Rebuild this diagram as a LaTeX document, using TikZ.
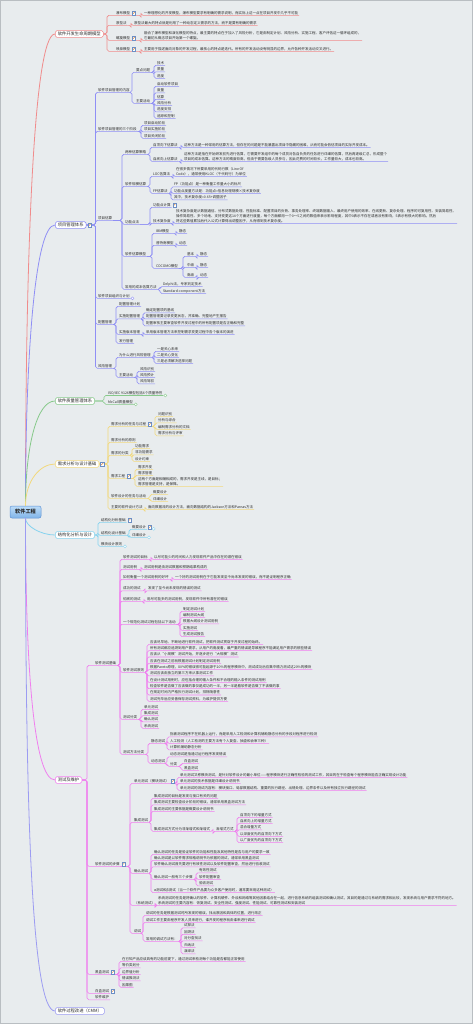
\documentclass[tikz,border=0pt]{standalone}
\usepackage{fontspec}
\newfontfamily\cjk{Noto Sans CJK SC}
\usetikzlibrary{positioning}
\definecolor{bgc}{HTML}{E8ECEE}
\definecolor{frm}{HTML}{B9BEC2}
\definecolor{txt}{HTML}{2B2B2B}
\definecolor{cR}{HTML}{F08C8C}
\definecolor{cB}{HTML}{8F8FF5}
\definecolor{cG}{HTML}{86C98A}
\definecolor{cY}{HTML}{F2D97E}
\definecolor{cC}{HTML}{86D3EE}
\definecolor{cM}{HTML}{F07EEE}
\definecolor{cV}{HTML}{9C9CF2}
\definecolor{rootT}{HTML}{BCDCF8}
\definecolor{rootB}{HTML}{80B4E8}
\definecolor{rootE}{HTML}{5E92D4}
\definecolor{icoB}{HTML}{6C8EC4}
\definecolor{icoO}{HTML}{E08A3C}
\tikzset{
  leaf/.style={anchor=west, inner xsep=0.8pt, inner ysep=0.5pt, align=left, text=txt,
    font=\cjk\fontsize{3.5}{4.7}\selectfont},
  box/.style={anchor=west, draw, fill=white, rounded corners=1.5pt, line width=0.55pt,
    inner xsep=2.5pt, inner ysep=1.3pt, text=txt, font=\cjk\fontsize{4.3}{5}\selectfont},
  rootbox/.style={draw=rootE, top color=rootT, bottom color=rootB, rounded corners=2pt,
    line width=0.5pt, minimum width=31pt, minimum height=12pt, text=txt,
    font=\cjk\bfseries\fontsize{5.2}{6}\selectfont},
  hub/.style={line width=0.55pt, rounded corners=1.8pt},
  trunk/.style={line width=0.8pt},
  ico/.style={draw=icoB, fill=white, line width=0.3pt, minimum size=3.4pt, inner sep=0pt,
    path picture={\draw[icoO, line width=0.5pt]
      ([shift={(0.6pt,0.6pt)}]path picture bounding box.south west) --
      ([shift={(-0.5pt,-0.5pt)}]path picture bounding box.north east);}},
  fold/.style={circle, draw, fill=white, line width=0.35pt, minimum size=3pt, inner sep=0pt},
}
\begin{document}
\begin{tikzpicture}[x=1pt,y=-1pt]
\useasboundingbox (0,0) rectangle (473,1024);
\fill[bgc] (0,0) rectangle (473,1024);
\draw[frm, line width=1pt] (0.5,0.5) rectangle (472.5,1023.5);

\node[rootbox] (root) at (25.5,512) {软件工程};

\node[box, draw=cR] (b1) at (55,34) {软件开发生命周期模型};
\node[box, draw=cB] (b2) at (55,225) {项目管理体系};
\node[box, draw=cG] (b3) at (55,401) {软件质量管理体系};
\node[box, draw=cY] (b4) at (55,464) {需求分析与设计基础};
\node[box, draw=cC] (b5) at (55,535) {结构化分析与设计};
\node[box, draw=cM] (b6) at (55,780) {测试及维护};
\node[box, draw=cV] (b7) at (55,1011) {软件过程改进（CMM）};

\draw[trunk, cR] (root.north) .. controls +(0,-240) and +(-22,0) .. (b1.west);
\draw[trunk, cB] (root.north) .. controls +(0,-150) and +(-20,0) .. (b2.west);
\draw[trunk, cG] (root.north) .. controls +(0,-60) and +(-18,0) .. (b3.west);
\draw[trunk, cY] (root.north) .. controls +(0,-25) and +(-15,0) .. (b4.west);
\draw[trunk, cC] (root.south) .. controls +(0,8) and +(-14,0) .. (b5.west);
\draw[trunk, cM] (root.south) .. controls +(0,140) and +(-22,0) .. (b6.west);
\draw[trunk, cV] (root.south) .. controls +(0,280) and +(-24,0) .. (b7.west);

\node[leaf] (r1) at (115,13) {瀑布模型};
\node[leaf] (r1d) at (143,13) {一种理想化的开发模型，瀑布模型要求有明确的需求说明，而实际上这一点在项目开发中几乎不可能};
\node[leaf] (r2) at (115,23) {原型法};
\node[leaf] (r2d) at (133,23) {原型法最大的特点就是利用了一种动态定义需求的方法，而不是要有明确的需求};
\node[leaf] (r3) at (115,38) {螺旋模型};
\node[leaf, anchor=south west] (r3d) at (143,40.4) {融合了瀑布模型和演化模型的特点，最主要的特点在于加入了风险分析，它是由制定计划、风险分析、实施工程、客户评估这一循环组成的，\\它最初从概念项目开始第一个螺旋。};
\node[leaf] (r4) at (115,49) {喷泉模型};
\node[leaf] (r4d) at (143,49) {主要用于描述面向对象的开发过程，最核心的特点是迭代。所有的开发活动没有明显的边界，允许各种开发活动交叉进行。};

\foreach \c in {r1,r2,r3,r4}
  \draw[hub, cR] (b1.east) -| ([xshift=-8pt]\c.south west) -- (\c.south east);
\foreach \p/\c/\s in {r1/r1d/2pt, r2/r2d/2pt, r3/r3d/2pt, r4/r4d/2pt}
  \draw[hub, cR] (\p.south east) -| ([xshift=-\s]\c.south west) -- (\c.south east);

\node[leaf] (p1) at (97,90) {软件项目管理的内容};
\node[leaf] (p1a) at (135,70) {要点问题};
\node[leaf] (k1) at (156,63) {技术};
\node[leaf] (k2) at (156,69.5) {质量};
\node[leaf] (k3) at (156,76) {进度};
\node[leaf] (p1b) at (135,101) {主要活动};
\node[leaf] (m1) at (156,84) {启动软件项目};
\node[leaf] (m2) at (156,90.5) {度量};
\node[leaf] (m3) at (156,97) {估算};
\node[leaf] (m4) at (156,103) {风险分析};
\node[leaf] (m5) at (156,109.5) {进度安排};
\node[leaf] (m6) at (156,116) {追踪和控制};
\node[leaf] (p2) at (97,129) {软件项目管理的三个阶段};
\node[leaf] (n1) at (143,123) {项目启动阶段};
\node[leaf] (n2) at (143,129.5) {项目实施阶段};
\node[leaf] (n3) at (143,136) {项目关闭阶段};
\node[leaf] (p3) at (97,218) {项目估算};
\node[leaf] (q1) at (124,152) {两种估算策略};
\node[leaf] (q1a) at (152,145) {自顶向下估算法};
\node[leaf] (q1ad) at (183,145) {这种方法是一种常用的估算方法，但存在的问题是不能暴露出项目中隐藏的困难，从而可能会低估项目的实际开发成本。};
\node[leaf] (q1b) at (152,159) {自底向上估算法};
\node[leaf, anchor=south west] (q1bd) at (183,161.4) {这种方法是指在开始研发前先进行估算，它需要开发组中的每个成员对各自负责的任务进行详细的估算，然后再逐级汇总，形成整个\\项目的成本估算。这种方法的精度较高，但由于需要各级人员参与，因此花费的时间较长，工作量较大，成本也较高。};
\node[leaf] (q2) at (124,184) {软件规模估算};
\node[leaf] (q2a) at (152,174) {LOC估算法};
\node[leaf, anchor=south west] (q2ad) at (175,176.4) {在很多情况下所要采用的代码行数（Line Of\\Code），通常使用KLOC（千代码行）为单位};
\node[leaf] (q2b) at (152,191) {FP估算法};
\node[leaf] (f1) at (173,184.5) {FP（功能点）是一种衡量工作量大小的标尺};
\node[leaf] (f2) at (173,191) {功能点度量方法是：功能点=信息处理规模×技术复杂度};
\node[leaf] (f3) at (173,197.5) {其中，技术复杂度=0.65+调整因子};
\node[leaf] (q3) at (124,222) {功能点法};
\node[leaf] (q3a) at (152,205) {功能点计算};
\node[leaf] (q3b) at (152,221) {技术复杂度};
\node[leaf, anchor=south west] (q3bd) at (175,223.4) {技术复杂度是从数据通信、分布式数据处理、性能标准、配置项目的负荷、事务处理率、终端数据输入、最终用户使用的效率、在线更新、复杂处理、程序的可复用性、安装简易性、\\操作简易性、多个场地、支持变更这14个方面进行度量，每个方面都用一个0～5之间的数值来表示影响程度，其中0表示不存在或者没有影响，5表示有很大的影响。然后\\将这些数值累加后代入公式计算得出调整因子，从而得到技术复杂度。};
\node[leaf] (q4) at (124,254) {软件估算模型};
\node[leaf] (w1) at (155,231) {IBM模型};
\node[leaf] (w1d) at (178,231) {静态};
\node[leaf] (w2) at (155,243) {普特南模型};
\node[leaf] (w2d) at (178,243) {动态};
\node[leaf] (w3) at (155,266) {COCOMO模型};
\node[leaf] (v1) at (186,254) {基本};
\node[leaf] (v1d) at (199,254) {静态};
\node[leaf] (v2) at (186,265) {中级};
\node[leaf] (v2d) at (199,265) {静态};
\node[leaf] (v3) at (186,275) {高级};
\node[leaf] (v3d) at (199,275) {动态};
\node[leaf] (q5) at (124,287) {常用的成本估算方法};
\node[leaf] (z1) at (162,284) {Delphi法，专家判定技术};
\node[leaf] (z2) at (162,291) {Standard-component方法};
\node[leaf] (p4) at (97,296) {软件项目组织与计划};
\node[leaf] (p5) at (97,322) {配置管理};
\node[leaf] (s1) at (118,304) {配置管理计划};
\node[leaf] (s2) at (118,316.5) {实施配置管理};
\node[leaf] (s2a) at (145,310.5) {确定配置项的基线};
\node[leaf] (s2b) at (145,316.5) {配置管理要记录变更状态，并准确、完整地产生报告};
\node[leaf] (s2c) at (145,323.5) {配置审核主要审查软件开发过程中的所有配置项是否正确和完整};
\node[leaf] (s3) at (118,332) {实施版本管理};
\node[leaf] (s3a) at (145,332) {采用版本管理方法来控制需求变更过程中各个版本的演进};
\node[leaf] (s4) at (118,341) {发行管理};
\node[leaf] (p6) at (97,366) {风险管理};
\node[leaf] (u1) at (118,355) {为什么进行风险管理};
\node[leaf] (u1a) at (156,349) {一是关心未来};
\node[leaf] (u1b) at (156,355) {二是关心变化};
\node[leaf] (u1c) at (156,361) {三是必须解决选择问题};
\node[leaf] (u2) at (118,375) {主要活动};
\node[leaf] (u2a) at (139,369) {风险识别};
\node[leaf] (u2b) at (139,375) {风险预计};
\node[leaf] (u2c) at (139,381.5) {风险驾驭};

\foreach \c in {p1,p2,p3,p4,p5,p6}
  \draw[hub, cB] (b2.east) -| ([xshift=-1.5pt]\c.south west) -- (\c.south east);
\foreach \p/\c/\s in {p1/p1a/3pt, p1/p1b/3pt, p1a/k1/2pt, p1a/k2/2pt, p1a/k3/2pt,
    p1b/m1/2pt, p1b/m2/2pt, p1b/m3/2pt, p1b/m4/2pt, p1b/m5/2pt, p1b/m6/2pt,
    p2/n1/2pt, p2/n2/2pt, p2/n3/2pt,
    p3/q1/2pt, p3/q2/2pt, p3/q3/2pt, p3/q4/2pt, p3/q5/2pt,
    q1/q1a/2pt, q1/q1b/2pt, q1a/q1ad/2pt, q1b/q1bd/2pt,
    q2/q2a/2pt, q2/q2b/2pt, q2a/q2ad/2pt, q2b/f1/2pt, q2b/f2/2pt, q2b/f3/2pt,
    q3/q3a/2pt, q3/q3b/2pt, q3b/q3bd/2pt,
    q4/w1/3pt, q4/w2/3pt, q4/w3/3pt, w1/w1d/2pt, w2/w2d/2pt,
    w3/v1/3pt, w3/v2/3pt, w3/v3/3pt, v1/v1d/2pt, v2/v2d/2pt, v3/v3d/2pt,
    q5/z1/2pt, q5/z2/2pt,
    p5/s1/2pt, p5/s2/2pt, p5/s3/2pt, p5/s4/2pt,
    s2/s2a/2pt, s2/s2b/2pt, s2/s2c/2pt, s3/s3a/2pt,
    p6/u1/2pt, p6/u2/2pt, u1/u1a/2pt, u1/u1b/2pt, u1/u1c/2pt,
    u2/u2a/2pt, u2/u2b/2pt, u2/u2c/2pt}
  \draw[hub, cB] (\p.south east) -| ([xshift=-\s]\c.south west) -- (\c.south east);

\node[leaf] (iso) at (107,393) {ISO/IEC 9126模型包括6个质量特性};
\node[leaf] (mcc) at (107,402) {McCall质量模型};
\foreach \c in {iso,mcc}
  \draw[hub, cG] (b3.east) -| ([xshift=-3pt]\c.south west) -- (\c.south east);

\node[leaf] (y1) at (110,424) {需求分析的任务与过程};
\node[leaf] (a1) at (157,414) {问题识别};
\node[leaf] (a2) at (157,420.5) {分析与综合};
\node[leaf] (a3) at (157,427) {编制需求分析的文档};
\node[leaf] (a4) at (157,433.5) {需求分析与评审};
\node[leaf] (y2) at (110,440) {需求分析的原则};
\node[leaf] (y3) at (110,453) {需求的分类};
\node[leaf] (d1) at (134,446) {功能需求};
\node[leaf] (d2) at (134,452.5) {非功能需求};
\node[leaf] (d3) at (134,459) {设计约束};
\node[leaf] (y4) at (110,476) {需求工程};
\node[leaf] (h1) at (137,467) {需求开发};
\node[leaf] (h2) at (137,473) {需求管理};
\node[leaf, anchor=south west] (h3) at (137,486.4) {这两个方面是相辅相成的，需求开发是主线，是目标；\\需求管理是支持，是保障。};
\node[leaf] (y5) at (110,496) {软件设计的任务与活动};
\node[leaf] (j1) at (152,492) {概要设计};
\node[leaf] (j2) at (152,499) {详细设计};
\node[leaf] (y6) at (110,507) {主要的软件设计方法};
\node[leaf] (y6d) at (147,507) {面向数据流的设计方法，面向数据结构的Jackson方法和Parnas方法};

\foreach \c in {y1,y2,y3,y4,y5,y6}
  \draw[hub, cY] (b4.east) -| ([xshift=-2pt]\c.south west) -- (\c.south east);
\foreach \p/\c/\s in {y1/a1/2pt, y1/a2/2pt, y1/a3/2pt, y1/a4/2pt,
    y3/d1/2pt, y3/d2/2pt, y3/d3/2pt, y4/h1/2pt, y4/h2/2pt, y4/h3/2pt,
    y5/j1/2pt, y5/j2/2pt, y6/y6d/2pt}
  \draw[hub, cY] (\p.south east) -| ([xshift=-\s]\c.south west) -- (\c.south east);

\node[leaf] (c1) at (100,520) {结构化分析基础};
\node[leaf] (c2) at (100,533) {结构化设计基础};
\node[leaf] (c2a) at (131,527) {概要设计};
\node[leaf] (c2b) at (131,535) {详细设计};
\node[leaf] (c3) at (100,544) {模块设计原则};
\foreach \c in {c1,c2,c3}
  \draw[hub, cC] (b5.east) -| ([xshift=-2pt]\c.south west) -- (\c.south east);
\foreach \c in {c2a,c2b}
  \draw[hub, cC] (c2.south east) -| ([xshift=-2pt]\c.south west) -- (\c.south east);

\node[leaf] (t1) at (94,663) {软件测试基础};
\node[leaf] (e1) at (122,557) {软件测试的目标};
\node[leaf] (e1d) at (153,557) {以尽可能少的时间和人力发现软件产品中存在的潜在错误};
\node[leaf] (e2) at (122,567) {测试用例};
\node[leaf] (e2d) at (143,567) {测试用例是由测试数据和预期结果构成的};
\node[leaf] (e3) at (122,577) {如何衡量一个测试用例的好坏};
\node[leaf] (e3d) at (174,577) {一个好的测试用例在于它能发现至今尚未发现的错误，而不是证明程序正确};
\node[leaf] (e4) at (122,588.5) {成功的测试};
\node[leaf] (e4d) at (147,588.5) {发现了至今尚未发现的错误的测试};
\node[leaf] (e5) at (122,599) {彻底的测试};
\node[leaf] (e5d) at (146,599) {用尽可能多的测试用例，发现软件中所有潜在的错误};
\node[leaf] (e6) at (122,622) {一个规范化测试过程包括以下活动};
\node[leaf] (o1) at (182,609) {制定测试计划};
\node[leaf] (o2) at (182,615.3) {编制测试大纲};
\node[leaf] (o3) at (182,621.6) {根据大纲设计测试用例};
\node[leaf] (o4) at (182,628) {实施测试};
\node[leaf] (o5) at (182,634.3) {生成测试报告};
\node[leaf] (e7) at (122,670) {软件测试原则};
\node[leaf] (l1) at (149,642) {应该尽早地、不断地进行软件测试，把软件测试贯穿于开发过程的始终。};
\node[leaf] (l2) at (149,648.3) {所有测试都应追溯到用户需求，从用户的角度看，最严重的错误是导致程序不能满足用户需求的那些错误};
\node[leaf] (l3) at (149,654.6) {应该从“小规模”测试开始，并逐步进行“大规模”测试};
\node[leaf] (l4) at (149,661) {应该在测试之前就根据测试计划制定测试用例};
\node[leaf] (l5) at (149,667.3) {根据Pareto原理，80\%的错误很可能起源于20\%的程序模块中，测试成功后应集中精力测试这20\%的模块};
\node[leaf] (l6) at (149,673.6) {测试应该由独立的第三方来从事测试工作};
\node[leaf] (l7) at (149,680) {在设计测试用例时，应包括合理的输入条件和不合理的输入条件的测试用例};
\node[leaf] (l8) at (149,686.3) {检查软件是否做了应该做的事仅是成功的一半，另一半是看软件是否做了不该做的事};
\node[leaf] (l9) at (149,692.6) {在规定时间内严格执行测试计划，排除随意性};
\node[leaf] (l10) at (149,699) {测试完毕后应妥善保存测试资料，为维护提供方便};
\node[leaf] (e8) at (122,717) {测试分类};
\node[leaf] (x1) at (143,707) {单元测试};
\node[leaf] (x2) at (143,713.3) {集成测试};
\node[leaf] (x3) at (143,719.6) {确认测试};
\node[leaf] (x4) at (143,726) {系统测试};
\node[leaf] (e9) at (122,752) {测试方法分类};
\node[leaf] (st) at (150,741) {静态测试};
\node[leaf] (st1) at (169,734.5) {指被测试程序不在机器上运行，而是采用人工检测和计算机辅助静态分析的手段对程序进行检测};
\node[leaf] (st2) at (169,741) {人工检测（人工检测的主要方法有个人复查、抽查和会审三种）};
\node[leaf] (st3) at (169,747.5) {计算机辅助静态分析};
\node[leaf] (dt) at (150,761) {动态测试};
\node[leaf] (dt1) at (169,754.5) {动态测试是指通过运行程序发现错误};
\node[leaf] (dt2) at (169,764) {分类};
\node[leaf] (dw) at (183,761) {白盒测试};
\node[leaf] (db) at (183,768) {黑盒测试};

\node[leaf] (t2) at (94,864) {软件测试的步骤};
\node[leaf] (g1) at (133,781) {单元测试（模块测试）};
\node[leaf] (ga1) at (179,775) {单元测试又称模块测试，是针对软件设计的最小单位——程序模块进行正确性检验的测试工作，其目的在于检查每个程序模块能否正确实现设计功能};
\node[leaf] (ga2) at (179,781) {单元测试的技术依据是详细设计说明书};
\node[leaf] (ga3) at (179,788) {单元测试的测试内容有：模块接口、局部数据结构、重要的执行路径、出错处理、边界条件以及所有独立执行路径的测试};
\node[leaf] (g2) at (133,820) {集成测试};
\node[leaf] (gb1) at (153,796) {集成测试的目标是发现与接口有关的问题};
\node[leaf] (gb2) at (153,802.5) {集成测试主要检查设计阶段的错误，通常采用黑盒测试方法};
\node[leaf] (gb3) at (153,809) {集成测试的主要依据是概要设计说明书};
\node[leaf] (gb4) at (153,829) {集成测试方式分为非渐增式和渐增式};
\node[leaf] (gm) at (215,829) {渐增式方式};
\node[leaf] (gn1) at (239,815) {自顶向下的增量方式};
\node[leaf] (gn2) at (239,821.3) {自底向上的增量方式};
\node[leaf] (gn3) at (239,827.6) {混合增量方式};
\node[leaf] (gn4) at (239,834) {以深度优先的自顶向下方式};
\node[leaf] (gn5) at (239,840.3) {以广度优先的自顶向下方式};
\node[leaf] (g3) at (133,871) {确认测试};
\node[leaf] (gc1) at (153,852) {确认测试的任务是验证软件的功能和性能及其他特性是否与用户的要求一致};
\node[leaf] (gc2) at (153,858) {确认测试是以软件需求规格说明书为依据的测试，通常采用黑盒测试};
\node[leaf] (gc3) at (153,864.5) {软件确认测试首先要进行有效性测试以及软件配置审查，然后进行验收测试};
\node[leaf] (gc4) at (153,877) {确认测试一般有三个步骤};
\node[leaf] (gk1) at (198,870.5) {有效性测试};
\node[leaf] (gk2) at (198,877) {软件配置审查};
\node[leaf] (gk3) at (198,883.5) {验收测试};
\node[leaf] (gc5) at (153,890) {α测试和β测试（当一个软件产品要为众多客户使用时，通常要采用这种测试）};
\node[leaf] (g4) at (133,903) {（系统测试）};
\node[leaf, anchor=south west] (g4d) at (157,905.4) {系统测试的任务是将确认的软件、计算机硬件、外设和网络等其他因素结合在一起，进行信息系统的组装测试和确认测试，其目的是通过与系统的需求相比较，发现系统与用户需求不符的地方。\\系统测试的主要内容有：恢复测试、安全性测试、强度测试、性能测试、可靠性测试和安装测试};
\node[leaf] (g5) at (133,931) {调试};
\node[leaf] (ge1) at (145,913) {调试的任务是根据测试时所发现的错误，找出原因和具体的位置，进行改正};
\node[leaf] (ge2) at (145,920) {调试工作主要由程序开发人员来进行，谁开发的程序就由谁来进行调试};
\node[leaf] (ge3) at (145,939) {常用的调试方法有：};
\node[leaf] (gt1) at (183,925.5) {试探法};
\node[leaf] (gt2) at (183,932) {回溯法};
\node[leaf] (gt3) at (183,938.5) {对分查找法};
\node[leaf] (gt4) at (183,945) {归纳法};
\node[leaf] (gt5) at (183,951.5) {演绎法};
\node[leaf] (t3) at (94,972) {黑盒测试};
\node[leaf] (bb1) at (121,959) {在已知产品应该具有的功能前提下，通过测试来检测每个功能是否都能正常使用};
\node[leaf] (bb2) at (121,965.5) {等价类划分};
\node[leaf] (bb3) at (121,972) {边界值分析};
\node[leaf] (bb4) at (121,978.5) {错误推测法};
\node[leaf] (bb5) at (121,985) {因果图};
\node[leaf] (t4) at (94,991) {白盒测试};
\node[leaf] (t5) at (94,997.5) {软件维护};

\foreach \c in {t1,t2,t3,t4,t5}
  \draw[hub, cM] (b6.east) -| ([xshift=-7pt]\c.south west) -- (\c.south east);
\foreach \p/\c/\s in {t1/e1/2pt, t1/e2/2pt, t1/e3/2pt, t1/e4/2pt, t1/e5/2pt,
    t1/e6/2pt, t1/e7/2pt, t1/e8/2pt, t1/e9/2pt,
    e1/e1d/2pt, e2/e2d/2pt, e3/e3d/2pt, e4/e4d/2pt, e5/e5d/2pt,
    e6/o1/2pt, e6/o2/2pt, e6/o3/2pt, e6/o4/2pt, e6/o5/2pt,
    e7/l1/2pt, e7/l2/2pt, e7/l3/2pt, e7/l4/2pt, e7/l5/2pt,
    e7/l6/2pt, e7/l7/2pt, e7/l8/2pt, e7/l9/2pt, e7/l10/2pt,
    e8/x1/2pt, e8/x2/2pt, e8/x3/2pt, e8/x4/2pt,
    e9/st/2pt, e9/dt/2pt, st/st1/2pt, st/st2/2pt, st/st3/2pt,
    dt/dt1/2pt, dt/dt2/2pt, dt2/dw/2pt, dt2/db/2pt,
    t2/g1/3pt, t2/g2/3pt, t2/g3/3pt, t2/g4/3pt, t2/g5/3pt,
    g1/ga1/2pt, g1/ga2/2pt, g1/ga3/2pt,
    g2/gb1/2pt, g2/gb2/2pt, g2/gb3/2pt, g2/gb4/2pt, gb4/gm/2pt,
    gm/gn1/2pt, gm/gn2/2pt, gm/gn3/2pt, gm/gn4/2pt, gm/gn5/2pt,
    g3/gc1/2pt, g3/gc2/2pt, g3/gc3/2pt, g3/gc4/2pt, g3/gc5/2pt,
    gc4/gk1/2pt, gc4/gk2/2pt, gc4/gk3/2pt, g4/g4d/2pt,
    g5/ge1/2pt, g5/ge2/2pt, g5/ge3/2pt,
    ge3/gt1/2pt, ge3/gt2/2pt, ge3/gt3/2pt, ge3/gt4/2pt, ge3/gt5/2pt,
    t3/bb1/2pt, t3/bb2/2pt, t3/bb3/2pt, t3/bb4/2pt, t3/bb5/2pt}
  \draw[hub, cM] (\p.south east) -| ([xshift=-\s]\c.south west) -- (\c.south east);

\node[ico, right=1pt of r1] (r1i) {};
\node[ico, right=1pt of r3] (r3i) {};
\node[ico, right=1pt of r4] (r4i) {};
\node[ico, right=1.2pt of b2] (b2i) {};
\node[ico, right=1pt of q3a] (q3ai) {};
\node[ico, right=1.2pt of b4] (b4i) {};
\node[ico, right=1pt of y1] (y1i) {};
\node[ico, right=1pt of y4] (y4i) {};
\node[ico, right=1pt of c1] (c1i) {};
\node[ico, right=1pt of c2a] (c2ai) {};
\node[ico, right=1pt of t2] (t2i) {};
\node[ico, right=1pt of g1] (g1i) {};
\node[ico, right=1pt of t3] (t3i) {};
\node[ico, right=1pt of t4] (t4i) {};

\node[fold, draw=cB, right=0.3pt of p4.south east] (p4f) {};
\node[fold, draw=cG, right=0.3pt of iso.south east] (isof) {};
\node[fold, draw=cG, right=0.3pt of mcc.south east] (mccf) {};
\node[fold, draw=cC, right=0.3pt of c2ai.south east] (c2af) {};
\node[fold, draw=cC, right=0.3pt of c2b.south east] (c2bf) {};
\node[fold, draw=cC, right=0.3pt of c3.south east] (c3f) {};
\end{tikzpicture}
\end{document}
